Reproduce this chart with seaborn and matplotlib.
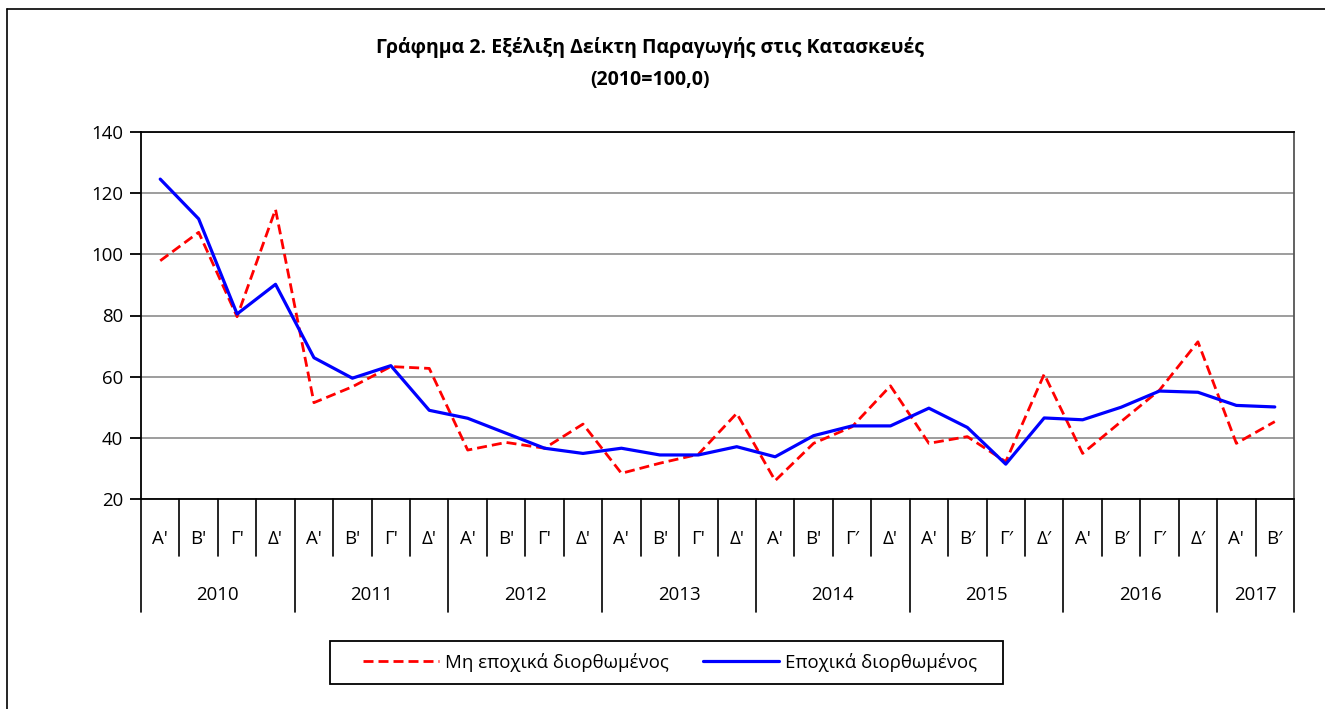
import numpy as np
import pandas as pd
import seaborn as sns
import matplotlib.pyplot as plt
import matplotlib.transforms as mtransforms
from matplotlib.lines import Line2D
from matplotlib.patches import Rectangle

# quarterly index values, 2010 Q1 .. 2017 Q2
years = ['2010', '2011', '2012', '2013', '2014', '2015', '2016', '2017']
quarters_per_year = [4, 4, 4, 4, 4, 4, 4, 2]
quarter_labels = ["Α'", "Β'", "Γ'", "Δ'",
                  "Α'", "Β'", "Γ'", "Δ'",
                  "Α'", "Β'", "Γ'", "Δ'",
                  "Α'", "Β'", "Γ'", "Δ'",
                  "Α'", "Β'", "Γ′", "Δ'",
                  "Α'", "Β′", "Γ′", "Δ′",
                  "Α'", "Β′", "Γ′", "Δ′",
                  "Α'", "Β′"]
non_sa = [97.9, 107.2, 79.6, 114.7, 51.5, 56.7, 63.3, 62.7,
          36.0, 38.5, 36.6, 44.5, 28.4, 31.7, 34.6, 48.0,
          26.0, 38.2, 43.6, 57.0, 38.2, 40.4, 32.2, 60.8,
          34.9, 45.3, 55.6, 71.4, 38.2, 45.3]
sa = [124.6, 111.6, 80.5, 90.2, 66.2, 59.5, 63.6, 49.0,
      46.4, 41.5, 36.6, 34.9, 36.6, 34.4, 34.4, 37.1,
      33.8, 40.7, 43.9, 43.9, 49.7, 43.4, 31.4, 46.5,
      45.9, 50.0, 55.3, 54.9, 50.6, 50.1]
series_names = ['Μη εποχικά διορθωμένος', 'Εποχικά διορθωμένος']

sns.set_style('white')
plt.rcParams['font.family'] = ['Open Sans', 'DejaVu Sans']
plt.rcParams['text.color'] = 'black'
plt.rcParams['ytick.color'] = 'black'
plt.rcParams['xtick.color'] = 'black'
FS = 13.4

df = pd.DataFrame({'pos': np.arange(len(sa)), 'non_sa': non_sa, 'sa': sa})

fig = plt.figure(figsize=(13.25, 7.09), dpi=100)
ax = fig.add_axes([141/1325, 1-499/709, (1294-141)/1325, (499-132)/709])

sns.lineplot(data=df, x='pos', y='non_sa', ax=ax, color='#ff0000', lw=2.0,
             linestyle=(0, (3.6, 1.8)), label=series_names[0])
sns.lineplot(data=df, x='pos', y='sa', ax=ax, color='#0000ff', lw=2.3,
             label=series_names[1])

ax.set_xlim(-0.5, len(sa) - 0.5)
ax.set_ylim(20, 140)
ax.set_yticks(range(20, 141, 20))
ax.yaxis.grid(True, color='#8c8c8c', lw=1.2)
ax.set_axisbelow(True)
ax.set_xticks([])
ax.set_xlabel('')
ax.set_ylabel('')
for s in ax.spines.values():
    s.set_color('black')
    s.set_linewidth(1.3)
ax.spines['right'].set_color('#555555')
ax.tick_params(axis='y', direction='out', length=8, width=1.3, color='black',
               labelcolor='black', left=True, labelsize=FS, pad=5)

# category axis: quarter and year rows
trans = mtransforms.blended_transform_factory(ax.transData, ax.transAxes)
q_bottom = (499 - 556) / 367
y_bottom = (499 - 612) / 367
for i, lab in enumerate(quarter_labels):
    ax.text(i, (499 - 539) / 367, lab, transform=trans, ha='center', va='center', fontsize=FS)
bounds = np.cumsum([0] + quarters_per_year) - 0.5
for i in range(len(sa) + 1):
    x = i - 0.5
    yb = y_bottom if x in bounds else q_bottom
    ax.add_line(Line2D([x, x], [0, yb], transform=trans, color='black', lw=1.2, clip_on=False))
for k, yr in enumerate(years):
    mid = (bounds[k] + bounds[k + 1]) / 2
    ax.text(mid, (499 - 595) / 367, yr, transform=trans, ha='center', va='center', fontsize=FS)

ax.legend_.remove()
handles = [Line2D([], [], color='#ff0000', lw=2.0, linestyle=(0, (3.6, 1.8))),
           Line2D([], [], color='#0000ff', lw=2.3)]
leg = fig.legend(handles, series_names, loc='center', bbox_to_anchor=(670/1325, 1-662/709),
                 ncol=2, fontsize=FS, frameon=False,
                 handlelength=4.1, columnspacing=1.8, handletextpad=0.35)
fig.add_artist(Rectangle((330/1325, 1-684/709), (1003-330)/1325, 43/709,
                         transform=fig.transFigure, fill=False, edgecolor='black', lw=1.3))

fig.text(650/1325, 1-48/709, 'Γράφημα 2. Εξέλιξη Δείκτη Παραγωγής στις Κατασκευές',
         ha='center', va='center', fontsize=14, fontweight='bold')
fig.text(650/1325, 1-80/709, '(2010=100,0)', ha='center', va='center',
         fontsize=14, fontweight='bold')

# outer frame (top and left visible)
fig.add_artist(Line2D([7/1325, 7/1325], [0, 1-9/709], transform=fig.transFigure, color='black', lw=1.2))
fig.add_artist(Line2D([7/1325, 1], [1-9/709, 1-9/709], transform=fig.transFigure, color='black', lw=1.2))

fig.savefig('out.png', dpi=100)
